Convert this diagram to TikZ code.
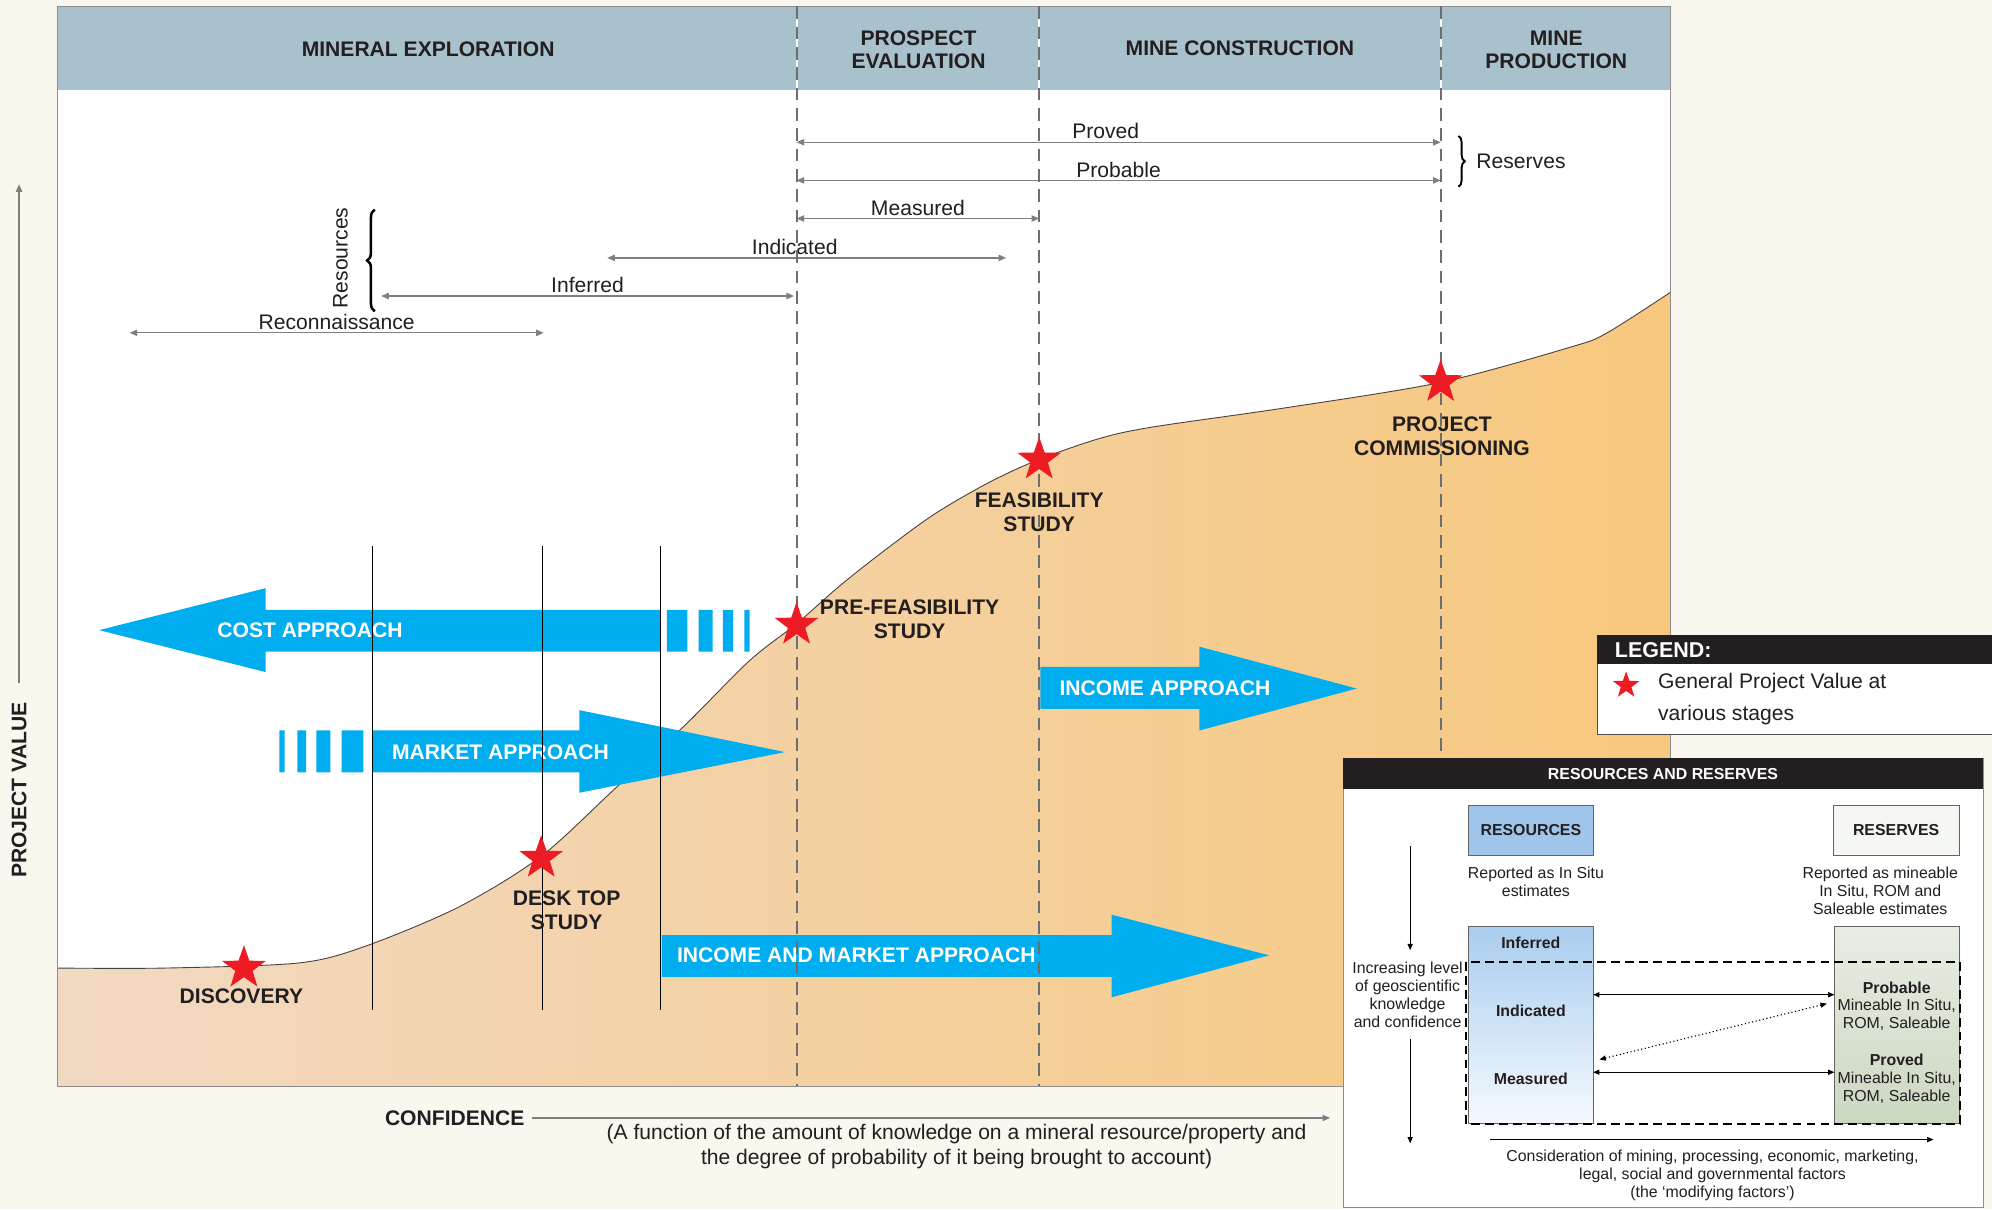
\documentclass[tikz,border=0pt]{standalone}
\usepackage{fontspec}
\setmainfont{Liberation Sans}
\usetikzlibrary{arrows.meta,shapes.geometric,decorations.pathreplacing}

\definecolor{bgcream}{HTML}{FAF7EF}
\definecolor{headblue}{HTML}{A8C1CD}
\definecolor{framegray}{HTML}{8C8C8C}
\definecolor{dashgray}{HTML}{6D6E71}
\definecolor{rangegray}{HTML}{7F7F7F}
\definecolor{inkblack}{HTML}{231F20}
\definecolor{approachblue}{HTML}{00AEEF}
\definecolor{starred}{HTML}{ED1C24}
\definecolor{peachleft}{HTML}{F2D9C2}
\definecolor{peachright}{HTML}{F7C87E}
\definecolor{resblue}{HTML}{9FC6EA}
\definecolor{coltop}{HTML}{A9CDEE}
\definecolor{colbot}{HTML}{F5F9FE}
\definecolor{rsvtop}{HTML}{E8EDE4}
\definecolor{rsvbot}{HTML}{CBD8C1}
\definecolor{rsvbox}{HTML}{F5F7F3}

\begin{document}
\begin{tikzpicture}[x=1pt, y=-1pt, >={Triangle[length=6pt,width=5pt]}]
\tikzstyle{every node}=[inner sep=0pt, text=inkblack];
\tikzstyle{hdr}=[font=\fontsize{16.6}{18}\selectfont\bfseries, align=center];
\tikzstyle{stage}=[font=\fontsize{16.6}{19}\selectfont\bfseries, align=center];
\tikzstyle{rangelbl}=[font=\fontsize{16.6}{19}\selectfont];
\tikzstyle{spanline}=[rangegray, line width=1pt, <->];
\tikzstyle{approach}=[fill=approachblue];
\tikzstyle{approachlbl}=[font=\fontsize{16.6}{19}\selectfont\bfseries, text=white];
\tikzstyle{valstar}=[star, star points=5, star point ratio=2.5, fill=starred, minimum size=36pt];
\tikzstyle{boxtext}=[font=\fontsize{12.5}{14}\selectfont, align=center];
\tikzstyle{boxbold}=[font=\fontsize{12.5}{14}\selectfont\bfseries, align=center];
\tikzstyle{phase}=[dashgray, line width=1.6pt, dash pattern=on 10pt off 6pt];
\tikzstyle{boxarrow}=[line width=0.9pt, >={Triangle[length=5pt,width=4pt]}];

\fill[bgcream] (0,0) rectangle (1568,952);
\useasboundingbox (0,0) rectangle (1568,952);

% chart panel
\fill[white] (45,71) rectangle (1315,855);
\fill[headblue] (45,5) rectangle (1315,71);
\shade[left color=peachleft, right color=peachright] (45,855) -- plot[smooth, tension=0.5] coordinates {(45,762) (130,762) (235,758) (287,745) (361,714) (426,674) (486,619) (538,572) (590,520) (627,491) (660,462) (694,435) (735,405) (778,380) (817,362) (866,345) (908,336) (1012,321) (1134,301) (1237,273) (1265,262) (1315,230)} -- (1315,855) -- cycle;
\draw[line width=0.7pt, inkblack!85] plot[smooth, tension=0.5] coordinates {(45,762) (130,762) (235,758) (287,745) (361,714) (426,674) (486,619) (538,572) (590,520) (627,491) (660,462) (694,435) (735,405) (778,380) (817,362) (866,345) (908,336) (1012,321) (1134,301) (1237,273) (1265,262) (1315,230)};
\draw[framegray, line width=0.8pt] (45,5) rectangle (1315,855);

\node[hdr] (hexp) at (337,39) {MINERAL EXPLORATION};
\node[hdr] (hpro) at (723,39) {PROSPECT\\EVALUATION};
\node[hdr] (hcon) at (976,38) {MINE CONSTRUCTION};
\node[hdr] (hprd) at (1225,39) {MINE\\PRODUCTION};

% resource / reserve ranges
\coordinate (prv0) at (627,112); \coordinate (prv1) at (1134,112);
\coordinate (prb0) at (627,142); \coordinate (prb1) at (1134,142);
\coordinate (mea0) at (627,172); \coordinate (mea1) at (818,172);
\coordinate (ind0) at (478,203); \coordinate (ind1) at (792,203);
\coordinate (inf0) at (300,233); \coordinate (inf1) at (625,233);
\coordinate (rec0) at (102,262); \coordinate (rec1) at (428,262);
\draw[spanline] (prv0) -- node[rangelbl, above=2pt, pos=0.48] (prvl) {Proved} (prv1);
\draw[spanline] (prb0) -- node[rangelbl, above=2pt] (prbl) {Probable} (prb1);
\draw[spanline] (mea0) -- node[rangelbl, above=2pt] (meal0) {Measured} (mea1);
\draw[spanline] (ind0) -- node[rangelbl, above=2pt, pos=0.47] (indl0) {Indicated} (ind1);
\draw[spanline] (inf0) -- node[rangelbl, above=2pt] (infl0) {Inferred} (inf1);
\draw[spanline] (rec0) -- node[rangelbl, above=2pt] (recl) {Reconnaissance} (rec1);
\draw[decorate, decoration={brace, amplitude=6pt}, line width=2pt] (295,245) -- (295,165);
\node[rangelbl, rotate=90] (resl) at (268,203) {Resources};
\draw[decorate, decoration={brace, amplitude=5pt}, line width=1.5pt] (1148,107) -- (1148,147);
\node[rangelbl, anchor=west] (rsvl) at (1162,127) {Reserves};

% valuation approaches
\fill[approach] (78,496) -- (209,463) -- (209,480) -- (520,480) -- (520,513) -- (209,513) -- (209,529) -- cycle;
\fill[approach] (525,480) rectangle (541,513) (550,480) rectangle (561,513) (569,480) rectangle (577,513) (586,480) rectangle (590,513);
\fill[approach] (220,575) rectangle (224,608) (234,575) rectangle (241,608) (249,575) rectangle (260,608) (269,575) rectangle (286,608);
\fill[approach] (293,575) -- (456,575) -- (456,559) -- (618,592) -- (456,624) -- (456,608) -- (293,608) -- cycle;
\fill[approach] (819,525) -- (944,525) -- (944,509) -- (1068,542) -- (944,575) -- (944,558) -- (819,558) -- cycle;
\fill[approach] (521,736) -- (875,736) -- (875,720) -- (999,752) -- (875,785) -- (875,769) -- (521,769) -- cycle;
\node[approachlbl] (costl) at (244,496) {COST APPROACH};
\node[approachlbl] (mktl) at (394,592) {MARKET APPROACH};
\node[approachlbl] (incl) at (917,542) {INCOME APPROACH};
\node[approachlbl] (imkl) at (674,752) {INCOME AND MARKET APPROACH};

\draw[line width=0.8pt] (293,430) -- (293,795) (427,430) -- (427,795) (520,430) -- (520,795);
\draw[white, line width=1.6pt] (627,5) -- (627,71) (818,5) -- (818,71) (1134,5) -- (1134,71);
\draw[phase] (627,5) -- (627,855) (818,5) -- (818,855) (1134,5) -- (1134,855);

% project value stages
\node[valstar] (sdis) at (192,762) {};
\node[valstar] (sdsk) at (426,675.5) {};
\node[valstar] (spre) at (627,492) {};
\node[valstar] (sfea) at (818,362) {};
\node[valstar] (scom) at (1134,301) {};
\node[stage] (ldis) at (190,784) {DISCOVERY};
\node[stage] (ldsk) at (446,716.5) {DESK TOP\\STUDY};
\node[stage] (lpre) at (716,487.5) {PRE-FEASIBILITY\\STUDY};
\node[stage] (lfea) at (818,403.5) {FEASIBILITY\\STUDY};
\node[stage] (lcom) at (1135,343.5) {PROJECT\\COMMISSIONING};

% axes
\node[stage, rotate=90] (pv) at (15,622) {PROJECT VALUE};
\coordinate (ytop) at (15,145);
\draw[->, rangegray, line width=0.9pt] ([yshift=15pt]pv.east) -- (ytop);
\node[stage, anchor=east] (conf) at (413,880) {CONFIDENCE};
\coordinate (confend) at (1047,880);
\draw[->, rangegray, line width=0.9pt] ([xshift=6pt]conf.east) -- (confend);
\node[rangelbl, align=center] (confnote) at (753,902.5) {(A function of the amount of knowledge on a mineral resource/property and\\the degree of probability of it being brought to account)};

% legend
\draw[inkblack!80, fill=white] (1257,500) rectangle (1600,578);
\fill[inkblack] (1257,500) rectangle (1600,523);
\node[font=\fontsize{16.9}{19}\selectfont\bfseries, text=white, anchor=west] (legt) at (1271,511.5) {LEGEND:};
\node[valstar, minimum size=22pt] (legstar) at (1280,539.5) {};
\node[anchor=west, align=left, font=\fontsize{16.6}{25}\selectfont] (legl) at (1305,550.5) {General Project Value at\\various stages};

% resources and reserves
\draw[framegray, fill=white] (1057,597) rectangle (1561,950);
\fill[inkblack] (1057,597) rectangle (1561,621);
\node[boxbold, text=white] (rrtitle) at (1309,609) {RESOURCES AND RESERVES};
\node[boxbold, draw=inkblack!70, fill=resblue, minimum width=98pt, minimum height=39pt] (resbox) at (1205,653.5) {RESOURCES};
\node[boxbold, draw=inkblack!70, fill=rsvbox, minimum width=99pt, minimum height=39pt] (rsvbox) at (1492.5,653.5) {RESERVES};
\node[boxtext] (resnote) at (1209,694) {Reported as In Situ\\estimates};
\node[boxtext] (rsvnote) at (1480,701) {Reported as mineable\\In Situ, ROM and\\Saleable estimates};
\node[draw=inkblack!70, top color=coltop, bottom color=colbot, minimum width=98pt, minimum height=155pt] (rescol) at (1205,806.5) {};
\node[draw=inkblack!70, top color=rsvtop, bottom color=rsvbot, minimum width=98pt, minimum height=155pt] (rsvcol) at (1493,806.5) {};
\node[boxbold] (infl) at (1205,742) {Inferred};
\node[boxbold] (indl) at (1205,796) {Indicated};
\node[boxbold] (meal) at (1205,849) {Measured};
\node[boxtext] (probl) at (1493,792) {\textbf{Probable}\\Mineable In Situ,\\ROM, Saleable};
\node[boxtext] (provl) at (1493,849) {\textbf{Proved}\\Mineable In Situ,\\ROM, Saleable};
\draw[line width=1.3pt, dash pattern=on 7pt off 4pt] (1154,757) rectangle (1543,885);
\coordinate (ia) at (1254,783); \coordinate (pa) at (1444,783);
\coordinate (ma) at (1254,844); \coordinate (va) at (1444,844);
\coordinate (da) at (1259,834); \coordinate (db) at (1438,790);
\draw[boxarrow, <->] (ia) -- (pa);
\draw[boxarrow, <->] (ma) -- (va);
\draw[boxarrow, <->, dotted] (da) -- (db);
\node[boxtext] (incr) at (1108,783) {Increasing level\\of geoscientific\\knowledge\\and confidence};
\coordinate (lv0) at (1110,666); \coordinate (lv1) at (1110,748);
\coordinate (lv2) at (1110,818); \coordinate (lv3) at (1110,900);
\draw[boxarrow, ->] (lv0) -- (lv1);
\draw[boxarrow, ->] (lv2) -- (lv3);
\coordinate (mf0) at (1173,897); \coordinate (mf1) at (1522,897);
\draw[boxarrow, ->] (mf0) -- (mf1);
\node[boxtext] (mfl) at (1348,925) {Consideration of mining, processing, economic, marketing,\\legal, social and governmental factors\\(the ‘modifying factors’)};
\end{tikzpicture}
\end{document}
